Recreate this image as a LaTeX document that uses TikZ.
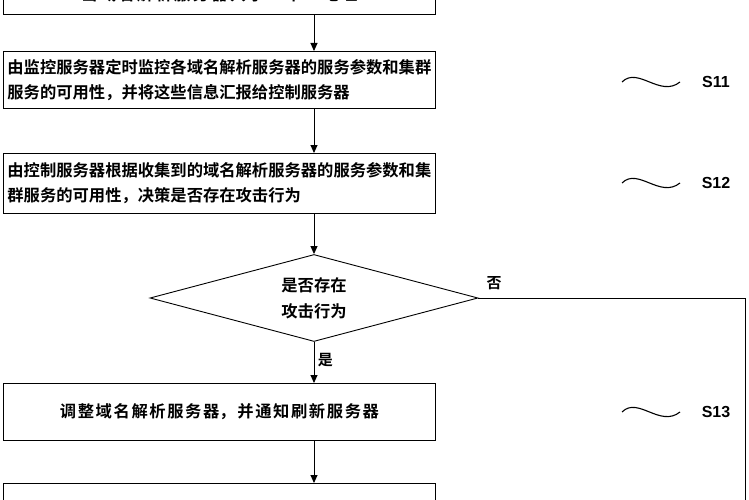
\documentclass[tikz,border=0pt]{standalone}
\usepackage{fontspec}
\newfontfamily\cjk{Noto Sans CJK SC Bold}
\newfontfamily\labelfont{Liberation Sans}
\XeTeXlinebreaklocale "zh"
\XeTeXlinebreakskip = 0pt plus 1pt
\usetikzlibrary{shapes.geometric,arrows.meta}
\tikzset{
  stepbox/.style={draw, line width=0.9pt, minimum width=432pt, text width=424pt, align=left,
    font=\cjk\fontsize{16.3}{25}\selectfont, inner sep=4pt},
  decide/.style={draw, diamond, aspect=3.77, minimum width=328pt, minimum height=87pt,
    font=\cjk\fontsize{16.3}{26}\selectfont, align=center, inner sep=0pt, line width=0.9pt},
  flow/.style={-{Triangle[length=8pt,width=7pt]}, line width=0.9pt},
  steplabel/.style={font=\labelfont\bfseries\fontsize{16}{16}\selectfont},
  wave/.style={line width=1.1pt}
}
\begin{document}
\begin{tikzpicture}[x=1pt,y=-1pt]
\useasboundingbox (0,0) rectangle (749,500);
\clip (0,0) rectangle (749,500);
% top box (cut off)
\node[stepbox, minimum height=40pt, align=center, anchor=south west] (s10) at (3,15) {当域名解析服务器共享一个IP地址};
\node[stepbox, minimum height=57pt, anchor=north west] (s11) at (3,51)
  {由监控服务器定时监控各域名解析服务器的服务参数和集群服务的可用性，并将这些信息汇报给控制服务器};
\node[stepbox, minimum height=60pt, anchor=north west] (s12) at (3,153)
  {由控制服务器根据收集到的域名解析服务器的服务参数和集群服务的可用性，决策是否存在攻击行为};
\node[decide] (q) at (314,298) {是否存在\\攻击行为};
\node[stepbox, minimum height=57pt, align=center, anchor=north west] (s13) at (3,383)
  {调整域名解析服务器，并通知刷新服务器};
\node[stepbox, minimum height=50pt, anchor=north west] (s14) at (3,483)
  {由刷新服务器通过刷新公网域名服务器缓存的域名解析服务};
% connectors
\draw[flow] (s10.south -| q) -- (s11.north -| q);
\draw[flow] (s11.south -| q) -- (s12.north -| q);
\draw[flow] (s12.south -| q) -- (q.north);
\draw[flow] (q.south) -- (s13.north -| q) node[pos=0.45, right, font=\cjk\fontsize{15}{15}\selectfont] {是};
\draw[flow] (s13.south -| q) -- (s14.north -| q);
\coordinate (nocorner) at (745,298);
\draw[line width=0.9pt] (q.east) -- (nocorner) -- (745,520);
\node[font=\cjk\fontsize{15}{15}\selectfont] (no) at (494,283) {否};
% step labels
\foreach \n/\y in {S11/82, S12/183, S13/412}{
  \draw[wave] (622,\y) .. controls (638,\y-16) and (660,\y+16) .. (680,\y);
  \node[steplabel] (l\n) at (716,\y) {\n};
}
\end{tikzpicture}
\end{document}
